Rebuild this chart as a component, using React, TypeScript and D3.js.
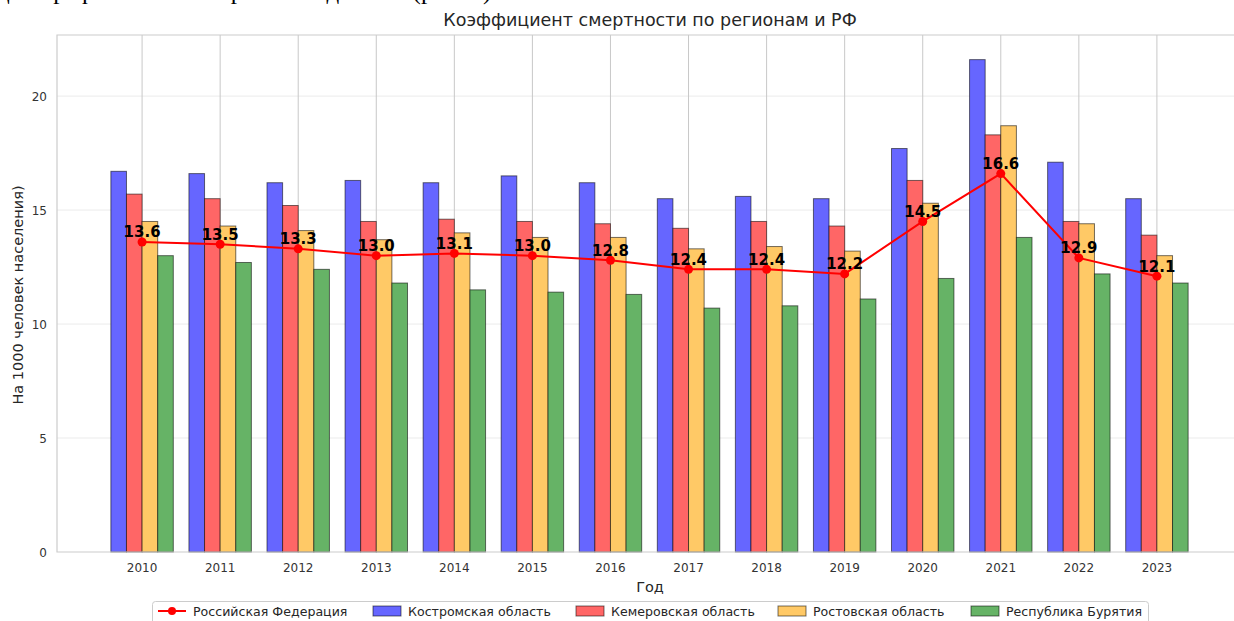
import React, { useEffect, useRef } from "react"
import * as d3 from "d3"

// годы и значения (на 1000 человек населения)
const years = [2010, 2011, 2012, 2013, 2014, 2015, 2016, 2017, 2018, 2019, 2020, 2021, 2022, 2023]
const rf = [13.6, 13.5, 13.3, 13.0, 13.1, 13.0, 12.8, 12.4, 12.4, 12.2, 14.5, 16.6, 12.9, 12.1]
const kostroma = [16.7, 16.6, 16.2, 16.3, 16.2, 16.5, 16.2, 15.5, 15.6, 15.5, 17.7, 21.6, 17.1, 15.5]
const kemerovo = [15.7, 15.5, 15.2, 14.5, 14.6, 14.5, 14.4, 14.2, 14.5, 14.3, 16.3, 18.3, 14.5, 13.9]
const rostov = [14.5, 14.3, 14.1, 13.7, 14.0, 13.8, 13.8, 13.3, 13.4, 13.2, 15.3, 18.7, 14.4, 13.0]
const buryatia = [13.0, 12.7, 12.4, 11.8, 11.5, 11.4, 11.3, 10.7, 10.8, 11.1, 12.0, 13.8, 12.2, 11.8]
const yTicks = [0, 5, 10, 15, 20]

const regions = [
  { name: "Костромская область", values: kostroma, color: "#6666ff" },
  { name: "Кемеровская область", values: kemerovo, color: "#ff6666" },
  { name: "Ростовская область", values: rostov, color: "#ffc966" },
  { name: "Республика Бурятия", values: buryatia, color: "#66b366" },
]

const W = 1234
const H = 621
const FONT = "DejaVu Sans"

export default function App() {
  const ref = useRef<SVGSVGElement>(null)

  useEffect(() => {
    const svg = d3.select(ref.current)
    svg.selectAll("*").remove()

    const left = 57, top = 35, bottom = 552
    const barW = 0.2
    // поля как у matplotlib: 5% от ширины столбцов
    const x = d3.scaleLinear().domain([-1.09, years.length - 1 + 1.09]).range([left, 1242])
    const y = d3.scaleLinear().domain([0, 22.68]).range([bottom, top])

    // строка документа над графиком (видны только нижние хвосты букв)
    svg.append("text")
      .attr("x", -3).attr("y", -1.5)
      .attr("font-family", "Liberation Serif").attr("font-size", 25)
      .attr("fill", "#000")
      .text("дём графическое отображение данных (рис. 3)")

    // сетка
    svg.append("g").selectAll("line").data(yTicks.slice(1)).enter().append("line")
      .attr("x1", left).attr("x2", W)
      .attr("y1", d => y(d)).attr("y2", d => y(d))
      .attr("stroke", "#ebebeb").attr("stroke-width", 1)
    svg.append("g").selectAll("line").data(years).enter().append("line")
      .attr("x1", (d, i) => x(i)).attr("x2", (d, i) => x(i))
      .attr("y1", top).attr("y2", bottom)
      .attr("stroke", "#c8c8c8").attr("stroke-width", 1)

    // столбцы
    regions.forEach((r, k) => {
      svg.append("g").selectAll("rect").data(r.values).enter().append("rect")
        .attr("x", (d, i) => x(i + (k - 2) * barW))
        .attr("width", x(barW) - x(0))
        .attr("y", d => y(d))
        .attr("height", d => y(0) - y(d))
        .attr("fill", r.color)
        .attr("stroke", "#000").attr("stroke-opacity", 0.55).attr("stroke-width", 1)
    })

    // рамка
    svg.append("path")
      .attr("d", `M${W + 10},${top}H${left}V${bottom}H${W + 10}`)
      .attr("fill", "none").attr("stroke", "#cccccc").attr("stroke-width", 1.2)

    // линия РФ
    const line = d3.line<number>().x((d, i) => x(i)).y(d => y(d))
    svg.append("path").datum(rf)
      .attr("d", line)
      .attr("fill", "none").attr("stroke", "#ff0000").attr("stroke-width", 2)
    svg.append("g").selectAll("circle").data(rf).enter().append("circle")
      .attr("cx", (d, i) => x(i)).attr("cy", d => y(d)).attr("r", 4.5)
      .attr("fill", "#ff0000")
    svg.append("g").selectAll("text").data(rf).enter().append("text")
      .attr("x", (d, i) => x(i)).attr("y", d => y(d) - 4.5)
      .attr("text-anchor", "middle")
      .attr("font-family", FONT).attr("font-size", 15).attr("font-weight", "bold")
      .attr("fill", "#000")
      .text(d => d.toFixed(1))

    // подписи осей
    svg.append("g").selectAll("text").data(years).enter().append("text")
      .attr("x", (d, i) => x(i)).attr("y", 572)
      .attr("text-anchor", "middle")
      .attr("font-family", FONT).attr("font-size", 12).attr("fill", "#333")
      .text(d => d)
    svg.append("g").selectAll("text").data(yTicks).enter().append("text")
      .attr("x", 47).attr("y", d => y(d) + 4.5)
      .attr("text-anchor", "end")
      .attr("font-family", FONT).attr("font-size", 12).attr("fill", "#333")
      .text(d => d)

    svg.append("text")
      .attr("x", 650).attr("y", 592).attr("text-anchor", "middle")
      .attr("font-family", FONT).attr("font-size", 14.5).attr("fill", "#262626")
      .text("Год")
    svg.append("text")
      .attr("transform", "translate(23,295) rotate(-90)")
      .attr("text-anchor", "middle")
      .attr("font-family", FONT).attr("font-size", 14.5).attr("fill", "#262626")
      .text("На 1000 человек населения)")
    svg.append("text")
      .attr("x", 650).attr("y", 26).attr("text-anchor", "middle")
      .attr("font-family", FONT).attr("font-size", 17.5).attr("fill", "#262626")
      .text("Коэффициент смертности по регионам и РФ")

    // легенда
    const lg = svg.append("g")
    lg.append("rect")
      .attr("x", 152.5).attr("y", 601.5).attr("width", 996).attr("height", 40).attr("rx", 3)
      .attr("fill", "#fff").attr("stroke", "#cccccc")
    const ly = 611
    lg.append("line").attr("x1", 158).attr("x2", 186).attr("y1", ly).attr("y2", ly)
      .attr("stroke", "#ff0000").attr("stroke-width", 2)
    lg.append("circle").attr("cx", 172).attr("cy", ly).attr("r", 4).attr("fill", "#ff0000")
    lg.append("text").attr("x", 193).attr("y", ly + 4.5)
      .attr("font-family", FONT).attr("font-size", 12.6).attr("fill", "#262626")
      .text("Российская Федерация")
    const lx = [373, 576, 778, 971]
    regions.forEach((r, k) => {
      lg.append("rect").attr("x", lx[k]).attr("y", ly - 5).attr("width", 28).attr("height", 10)
        .attr("fill", r.color).attr("stroke", "#000").attr("stroke-opacity", 0.55)
      lg.append("text").attr("x", lx[k] + 35).attr("y", ly + 4.5)
        .attr("font-family", FONT).attr("font-size", 12.6).attr("fill", "#262626")
        .text(r.name)
    })
  }, [])

  return (
    <svg ref={ref} width={W} height={H}
      style={{ position: "absolute", left: 0, top: 0, background: "#fff" }} />
  )
}
